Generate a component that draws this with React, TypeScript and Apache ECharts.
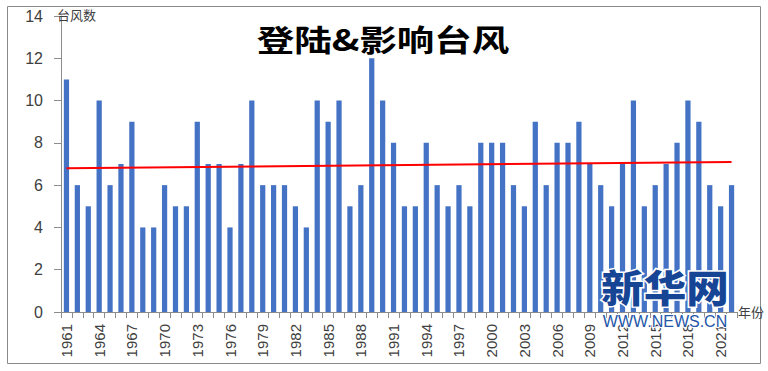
import React, { useEffect, useRef } from "react";
import * as echarts from "echarts";

const years: string[] = [];
for (let y = 1961; y <= 2022; y++) years.push(String(y));

const typhoonCounts = [
  11, 6, 5, 10, 6, 7, 9, 4, 4, 6,
  5, 5, 9, 7, 7, 4, 7, 10, 6, 6,
  6, 5, 4, 10, 9, 10, 5, 6, 12, 10,
  8, 5, 5, 8, 6, 5, 6, 5, 8, 8,
  8, 6, 5, 9, 6, 8, 8, 9, 7, 6,
  5, 7, 10, 5, 6, 7, 8, 10, 9, 6,
  5, 6,
];

const trendStart = 6.8;
const trendEnd = 7.1;

const yTicks = { min: 0, max: 14, interval: 2 };

const titleText = "登陆&影响台风";
const yName = "台风数";
const xName = "年份";
const wmMain = "新华网";
const wmSub = "WWW.NEWS.CN";

export default function App() {
  const ref = useRef<HTMLDivElement>(null);
  useEffect(() => {
    if (!ref.current) return;
    const chart = echarts.init(ref.current, null, { renderer: "svg" });
    const labelFont = "'Liberation Sans', Arial, sans-serif";
    chart.setOption({
      animation: false,
      backgroundColor: "#ffffff",
      grid: { left: 61, right: 31, top: 16, bottom: 59, containLabel: false },
      xAxis: {
        type: "category",
        data: years,
        boundaryGap: true,
        axisLine: { show: true, lineStyle: { color: "#8c8c8c", width: 1 } },
        axisTick: { show: true, interval: 0, length: 6, lineStyle: { color: "#8c8c8c" } },
        axisLabel: {
          interval: 2,
          rotate: 90,
          margin: 12,
          color: "#404040",
          fontSize: 15,
          fontFamily: labelFont,
        },
        splitLine: { show: false },
      },
      yAxis: {
        type: "value",
        min: yTicks.min,
        max: yTicks.max,
        interval: yTicks.interval,
        axisLine: { show: true, lineStyle: { color: "#8c8c8c", width: 1 } },
        axisTick: { show: true, length: 7, lineStyle: { color: "#8c8c8c" } },
        axisLabel: {
          margin: 18,
          color: "#404040",
          fontSize: 16,
          fontFamily: labelFont,
        },
        splitLine: { show: false },
      },
      series: [
        {
          type: "bar",
          data: typhoonCounts,
          barWidth: "48%",
          itemStyle: { color: "#4472C4" },
          markLine: {
            silent: true,
            symbol: ["none", "none"],
            label: { show: false },
            lineStyle: { color: "#ff0000", width: 2, type: "solid" },
            data: [
              [
                { coord: [years[0], trendStart] },
                { coord: [years[years.length - 1], trendEnd] },
              ],
            ],
          },
        },
      ],
      graphic: [
        {
          type: "rect",
          shape: { x: 7.5, y: 6.5, width: 753, height: 357 },
          style: { fill: "none", stroke: "#8a8a8a", lineWidth: 1 },
          silent: true,
          z: 100,
        },
        {
          type: "text",
          x: 383,
          y: 38,
          scaleX: 1.25,
          style: {
            text: titleText,
            fill: "#000000",
            font: "bold 30px 'Noto Sans CJK SC', sans-serif",
            textAlign: "center",
            textVerticalAlign: "middle",
          },
          z: 100,
        },
        {
          type: "text",
          x: 57,
          y: 14,
          style: {
            text: yName,
            fill: "#404040",
            font: "13px 'Noto Sans CJK SC', sans-serif",
            textAlign: "left",
            textVerticalAlign: "middle",
          },
          z: 100,
        },
        {
          type: "text",
          x: 738,
          y: 311,
          style: {
            text: xName,
            fill: "#404040",
            font: "13px 'Noto Sans CJK SC', sans-serif",
            textAlign: "left",
            textVerticalAlign: "middle",
          },
          z: 100,
        },
        {
          type: "text",
          x: 665,
          y: 286,
          scaleX: 1.12,
          style: {
            text: wmMain,
            fill: "#164596",
            stroke: "#ffffff",
            lineWidth: 3,
            font: "900 38px 'Noto Sans CJK SC', sans-serif",
            textAlign: "center",
            textVerticalAlign: "middle",
          },
          z: 110,
        },
        {
          type: "text",
          x: 665,
          y: 321,
          style: {
            text: wmSub,
            fill: "#2456a8",
            stroke: "#ffffff",
            lineWidth: 2,
            font: "16px 'Liberation Sans', Arial, sans-serif",
            textAlign: "center",
            textVerticalAlign: "middle",
          },
          z: 110,
        },
      ],
    });
    return () => chart.dispose();
  }, []);
  return (
    <div
      ref={ref}
      style={{ position: "fixed", left: 0, top: 0, width: 768, height: 371, background: "#fff" }}
    />
  );
}
